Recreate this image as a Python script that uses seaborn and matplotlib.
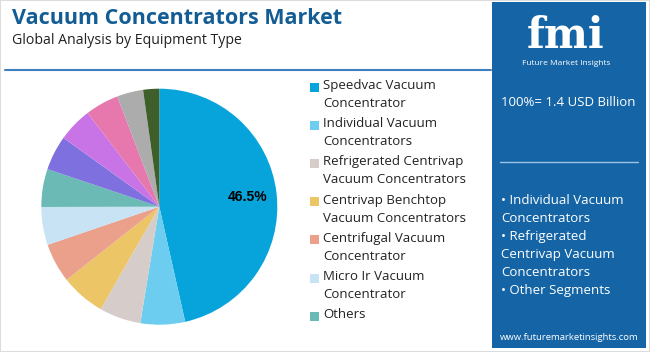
import matplotlib
matplotlib.use('Agg')
import matplotlib.pyplot as plt
from matplotlib.patches import Rectangle
import seaborn as sns

# Equipment type shares (%), clockwise from 12 o'clock
segments = ['Speedvac Vacuum\nConcentrator', 'Individual Vacuum\nConcentrators',
            'Refrigerated Centrivap\nVacuum Concentrators', 'Centrivap Benchtop\nVacuum Concentrators',
            'Centrifugal Vacuum\nConcentrator', 'Micro Ir Vacuum\nConcentrator', 'Others',
            'Other 2', 'Other 3', 'Other 4', 'Other 5', 'Other 6']
shares = [46.5, 6.1, 5.7, 6.1, 5.4, 5.2, 5.2, 4.75, 4.7, 4.6, 3.6, 2.2]
colors = ['#06A4DB', '#6DCDF0', '#D6CDCB', '#EBC566', '#EBA08C', '#C8E3F3',
          '#6BBAB5', '#7F70E0', '#C874E6', '#E678AE', '#ACACAC', '#3F5F2A']
n_legend = 7
bullets = ['• Individual Vacuum\nConcentrators', '• Refrigerated\nCentrivap Vacuum\nConcentrators',
           '• Other Segments']

sns.set_theme(style='white')
plt.rcParams['font.family'] = ['Open Sans', 'DejaVu Sans']

fig = plt.figure(figsize=(6.5, 3.52), dpi=100)
W, H = 650, 352

def fx(px):
    return px / W

def fy(py):
    return 1 - py / H

# outer frame
fig.patches.append(Rectangle((0, 0), 1, 1, transform=fig.transFigure, fill=False,
                             edgecolor='#DDDDDD', linewidth=1.5))

# titles
fig.text(fx(12), fy(18), 'Vacuum Concentrators Market', fontsize=15.5, fontweight='bold',
         color='#135C94', va='center', ha='left')
fig.text(fx(12), fy(41), 'Global Analysis by Equipment Type', fontsize=10.2,
         color='#222222', va='center', ha='left')
fig.add_artist(plt.Line2D([fx(5), fx(491)], [fy(70), fy(70)], color='#3F7EBF', linewidth=1.5))

# pie
cx, cy, r = 159.3, 206.7, 118
ax = fig.add_axes([fx(cx - r), fy(cy + r), 2 * r / W, 2 * r / H])
wedges, _, autotexts = ax.pie(shares, colors=colors, startangle=90, counterclock=False,
                              autopct='%1.1f%%', pctdistance=0.75,
                              wedgeprops=dict(linewidth=0))
for i, t in enumerate(autotexts):
    if i == 0:
        t.set_fontsize(10)
        t.set_fontweight('bold')
        t.set_color('black')
        t.set_fontfamily(['Liberation Sans', 'DejaVu Sans'])
    else:
        t.set_visible(False)
ax.set_xlim(-1, 1)
ax.set_ylim(-1, 1)
ax.set_aspect('auto')

# legend
for i in range(n_legend):
    y0 = 87 + i * 38.2
    fig.patches.append(Rectangle((fx(309.5), fy(y0 + 4.5)), 9 / W, 9 / H,
                                 transform=fig.transFigure, facecolor=colors[i],
                                 edgecolor='none'))
    fig.text(fx(323), fy(y0 - 8), segments[i], fontsize=9.5, color='#222222',
             va='top', ha='left', linespacing=1.5)

# right panel
fig.patches.append(Rectangle((fx(492), fy(348)), (646 - 492) / W, (348 - 2) / H,
                             transform=fig.transFigure, facecolor='#1565A6',
                             edgecolor='none'))
fig.text(fx(566), fy(48), 'fmi', fontsize=30, fontweight='bold', color='white',
         ha='center', va='baseline', family=['DejaVu Serif'])
fig.text(fx(566), fy(63.5), 'Future Market Insights', fontsize=6, color='white',
         ha='center', va='center')
fig.text(fx(501), fy(103), '100%= 1.4 USD Billion', fontsize=9.5, color='white',
         ha='left', va='center')
fig.add_artist(plt.Line2D([fx(500), fx(638)], [fy(162), fy(162)], color='#9FC3E4',
                          linewidth=1))
fig.text(fx(501), fy(194), '\n'.join(bullets), fontsize=9.5, color='white',
         ha='left', va='top', linespacing=1.5)
fig.text(fx(569), fy(337), 'www.futuremarketinsights.com', fontsize=6.8, color='white',
         ha='center', va='center')

fig.savefig('out.png', dpi=100)
